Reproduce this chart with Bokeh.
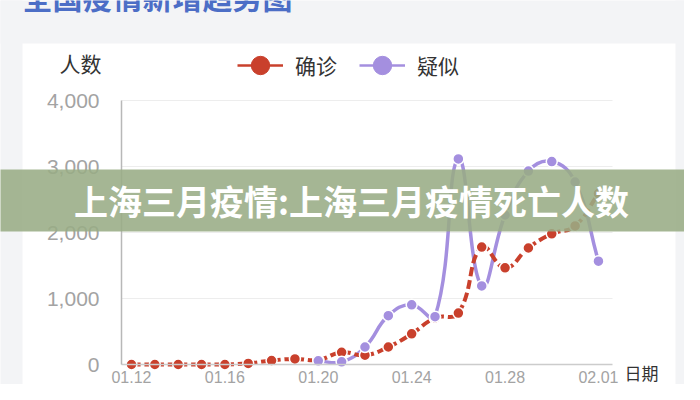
import numpy as np
from bokeh.plotting import figure
from bokeh.models import (Range1d, FixedTicker, NumeralTickFormatter, Label, BoxAnnotation,
                          Legend, LegendItem, ColumnDataSource)
from bokeh.embed import file_html
from bokeh.resources import INLINE

# ---------------- data ----------------
dates = ["01.12", "01.13", "01.14", "01.15", "01.16", "01.17", "01.18", "01.19", "01.20",
         "01.21", "01.22", "01.23", "01.24", "01.25", "01.26", "01.27", "01.28", "01.29",
         "01.30", "01.31", "02.01"]
confirmed = [0, 0, 0, 0, 0, 17, 60, 85, 70, 185, 140, 265, 465, 705, 780, 1780, 1465, 1765,
             1980, 2100, 2590]
suspected = [None, None, None, None, None, None, None, None, 55, 40, 265, 740, 905, 725,
             3115, 1190, 2265, 2930, 3075, 2765, 1565]
y_ticks = [0, 1000, 2000, 3000, 4000]
x_tick_labels = ["01.12", "01.16", "01.20", "01.24", "01.28", "02.01"]
series_names = ["确诊", "疑似"]
title_text = "全国疫情新增趋势图"
banner_text = "上海三月疫情:上海三月疫情死亡人数"
y_title = "人数"
x_title = "日期"

RED = "#c9402c"
PURPLE = "#a48fdf"
CJK = "Noto Sans CJK SC"
LAT = "Liberation Sans"

W, H = 684, 384
# plot-area geometry in canvas pixels
PX_L, PX_R, PY_T, PY_B = 121, 612, 100, 364
X_FIRST = 131                      # pixel of the first date
XS = (PX_R - PX_L) / 21.03         # px per day
YS = (PY_B - PY_T) / 4000          # px per unit

def d(px):   # canvas x pixel -> data x
    return (px - X_FIRST) / XS

def v(py):   # canvas y pixel -> data y
    return (PY_B - py) / YS

def sy(py):  # canvas y pixel -> frame screen y (from bottom)
    return H - py

# ---------------- figure: frame covers the whole canvas ----------------
p = figure(width=W, height=H, output_backend="svg", toolbar_location=None,
           x_range=Range1d(d(0), d(W)), y_range=Range1d(v(H), v(0)),
           min_border=0, min_border_left=0, min_border_right=0,
           min_border_top=0, min_border_bottom=0)
p.background_fill_color = "white"
p.border_fill_color = "white"
p.outline_line_color = None
p.xgrid.visible = False
p.ygrid.visible = False
# a range far outside the view: legend-only renderers use it, so they draw nothing visible
p.extra_y_ranges = {"legend_only": Range1d(start=-2e6, end=-1e6)}

# page background strips (outside the white card)
GRAY = "#f3f4f6"
for l, r, t, b in [(-20, 22, -20, 420), (-20, 720, -20, 43), (675, 720, -20, 420)]:
    p.add_layout(BoxAnnotation(left=l, right=r, top=sy(t), bottom=sy(b),
                               left_units="screen", right_units="screen",
                               top_units="screen", bottom_units="screen",
                               fill_color=GRAY, fill_alpha=1, line_color=None,
                               level="underlay"))

# horizontal grid lines (from the y ticks)
gy = y_ticks[1:]
p.segment(x0=[d(PX_L)] * len(gy), x1=[d(PX_R)] * len(gy), y0=gy, y1=gy,
          line_color="#ededed", line_width=1, level="underlay")

# axes placed at fixed data locations
ya = p.yaxis[0]
ya.fixed_location = d(PX_L)
ya.bounds = (y_ticks[0], y_ticks[-1])
ya.ticker = FixedTicker(ticks=y_ticks)
ya.formatter = NumeralTickFormatter(format="0,0")
ya.axis_line_color = "#b8b8b8"
ya.axis_line_width = 1.5
ya.major_tick_line_color = None
ya.minor_tick_line_color = None
ya.major_label_standoff = 16
ya.major_label_text_font_size = "21px"
ya.major_label_text_color = "#a3a3a3"
ya.major_label_text_font = LAT

xa = p.xaxis[0]
x_ticks = [dates.index(t) for t in x_tick_labels]
xa.fixed_location = 0
xa.bounds = (d(PX_L), d(PX_R))
xa.ticker = FixedTicker(ticks=x_ticks)
xa.major_label_overrides = {i: dates[i] for i in x_ticks}
xa.axis_line_color = "#cccccc"
xa.axis_line_width = 1.5
xa.major_tick_line_color = None
xa.minor_tick_line_color = None
xa.major_label_standoff = 0
xa.major_label_text_font_size = "16px"
xa.major_label_text_color = "#a3a3a3"
xa.major_label_text_font = LAT

# ---------------- smooth curve (bezier) ----------------
SMOOTH = 0.45

def bezier_source(xs, ys):
    idx = [i for i, val in enumerate(ys) if val is not None]
    X = np.array([xs[i] for i in idx], float)
    Y = np.array([ys[i] for i in idx], float)
    n = len(X)
    cin = np.zeros((n, 2)); cout = np.zeros((n, 2))
    for k in range(n):
        pk = max(k - 1, 0); nk = min(k + 1, n - 1)
        vx, vy = X[nk] - X[pk], Y[nk] - Y[pk]
        d0 = np.hypot((X[k] - X[pk]) * XS, (Y[k] - Y[pk]) * YS)
        d1 = np.hypot((X[nk] - X[k]) * XS, (Y[nk] - Y[k]) * YS)
        r = d1 / (d0 + d1) if (d0 + d1) > 0 else 0.5
        cout[k] = (X[k] + vx * SMOOTH * r, Y[k] + vy * SMOOTH * r)
        cin[k] = (X[k] - vx * SMOOTH * (1 - r), Y[k] - vy * SMOOTH * (1 - r))
    return ColumnDataSource(dict(
        x0=X[:-1].tolist(), y0=Y[:-1].tolist(), x1=X[1:].tolist(), y1=Y[1:].tolist(),
        cx0=cout[:-1, 0].tolist(), cy0=cout[:-1, 1].tolist(),
        cx1=cin[1:, 0].tolist(), cy1=cin[1:, 1].tolist()))

xs = list(range(len(dates)))
src_s = bezier_source(xs, suspected)
src_c = bezier_source(xs, confirmed)

p.bezier(x0="x0", y0="y0", x1="x1", y1="y1", cx0="cx0", cy0="cy0", cx1="cx1", cy1="cy1",
         source=src_s, line_color=PURPLE, line_width=3.5)
p.bezier(x0="x0", y0="y0", x1="x1", y1="y1", cx0="cx0", cy0="cy0", cx1="cx1", cy1="cy1",
         source=src_c, line_color=RED, line_width=4, line_dash="9 4")

pts_c = ColumnDataSource(dict(x=xs, y=confirmed))
pts_s = ColumnDataSource(dict(x=[x for x, val in zip(xs, suspected) if val is not None],
                              y=[val for val in suspected if val is not None]))
p.scatter("x", "y", source=pts_c, size=11, fill_color=RED, line_color="white", line_width=1.5)
p.scatter("x", "y", source=pts_s, size=11, fill_color=PURPLE, line_color="white", line_width=1.5)

# ---------------- legend (solid-line swatches, drawn on the off-view range) ----------------
lg_c_line = p.line("x", "y", source=pts_c, line_color=RED, line_width=2.5,
                   y_range_name="legend_only")
lg_c_dot = p.scatter("x", "y", source=pts_c, fill_color=RED, line_color=RED,
                     y_range_name="legend_only")
lg_s_line = p.line("x", "y", source=pts_s, line_color=PURPLE, line_width=2.5,
                   y_range_name="legend_only")
lg_s_dot = p.scatter("x", "y", source=pts_s, fill_color=PURPLE, line_color=PURPLE,
                     y_range_name="legend_only")
legend = Legend(items=[LegendItem(label=series_names[0], renderers=[lg_c_line, lg_c_dot]),
                       LegendItem(label=series_names[1], renderers=[lg_s_line, lg_s_dot])],
                orientation="horizontal", location=(237, sy(89)),
                glyph_width=46, glyph_height=48, label_standoff=12, spacing=22,
                padding=0, margin=0, border_line_alpha=0, background_fill_alpha=0,
                label_text_font=CJK, label_text_font_size="21px", label_text_color="#333333")
p.add_layout(legend, "center")

# ---------------- texts ----------------
p.add_layout(Label(x=22, y=sy(17), x_units="screen", y_units="screen", text=title_text,
                   text_font=CJK, text_font_style="bold", text_font_size="30px",
                   text_color="#4c6ec6", text_baseline="bottom", text_align="left"))
p.add_layout(Label(x=80, y=sy(62), x_units="screen", y_units="screen", text=y_title,
                   text_font=CJK, text_font_size="21px", text_color="#333333",
                   text_baseline="middle", text_align="center"))
p.add_layout(Label(x=624, y=sy(372), x_units="screen", y_units="screen", text=x_title,
                   text_font=CJK, text_font_size="17px", text_color="#333333",
                   text_baseline="middle", text_align="left"))

# banner overlay
p.add_layout(BoxAnnotation(left=-20, right=720, top=sy(169), bottom=sy(231),
                           left_units="screen", right_units="screen",
                           top_units="screen", bottom_units="screen",
                           fill_color="#99ac85", fill_alpha=0.88, line_color=None,
                           level="overlay"))
p.add_layout(Label(x=351, y=sy(200), x_units="screen", y_units="screen", text=banner_text,
                   text_font=CJK, text_font_style="bold", text_font_size="34px",
                   text_color="white", text_baseline="middle", text_align="center",
                   level="overlay"))

open("out.html", "w").write(file_html(p, INLINE))
